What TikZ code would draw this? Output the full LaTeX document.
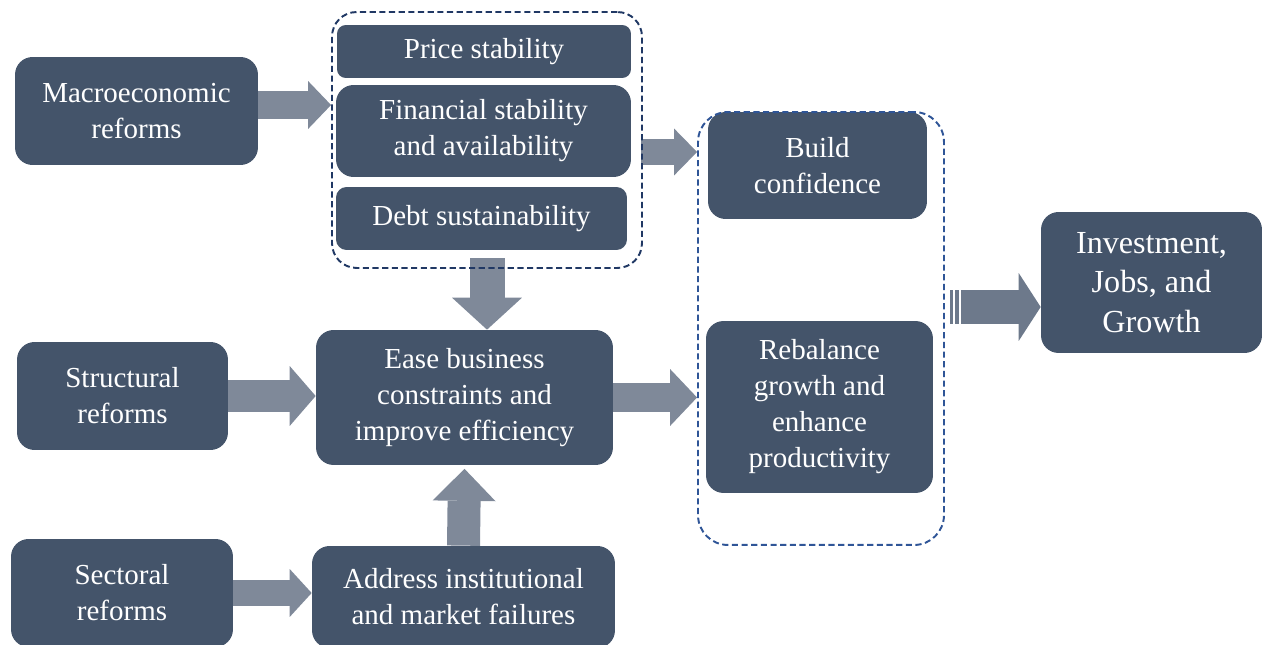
\documentclass[tikz,border=0pt]{standalone}
\usepackage{fontspec}
\setmainfont{Liberation Serif}
\usepackage{tikz}
\usetikzlibrary{arrows.meta,calc,backgrounds}

\definecolor{boxblue}{HTML}{44546A}
\definecolor{arrowgrey}{HTML}{7F8999}
\definecolor{darkgrey}{HTML}{6D798B}
\definecolor{navydash}{HTML}{203864}
\definecolor{bluedash}{HTML}{2F5597}

\begin{document}
\begin{tikzpicture}[
    x=0.02cm, y=-0.02cm,
    box/.style={rectangle, rounded corners=10pt, fill=boxblue, text=white, align=center,
        inner sep=0pt, font=\fontsize{16.5}{20.5}\selectfont},
    group/.style={rectangle, draw, dashed, dash pattern=on 3.5pt off 2pt, line width=1.1pt,
        rounded corners=14pt, inner sep=0pt},
    blockarrow/.style n args={4}{draw=#4, line width=#1,
        -{Triangle[width=#2, length=#3, line width=0pt, fill=#4]}}
]
\path[clip, use as bounding box] (0,0) rectangle (1262,645);

% Boxes
\node[box, minimum width=4.86cm, minimum height=2.16cm] (macro) at (136.5, 111) {Macroeconomic\\reforms};
\node[box, rounded corners=5pt, minimum width=5.88cm, minimum height=1.06cm] (price) at (484, 51.5) {Price stability};
\node[box, minimum width=5.9cm, minimum height=1.84cm] (fin) at (483.5, 131) {Financial stability\\and availability};
\node[box, rounded corners=6pt, minimum width=5.82cm, minimum height=1.26cm] (debt) at (481.5, 218.5) {Debt sustainability};
\node[box, minimum width=4.38cm, minimum height=2.14cm] (build) at (817.5, 165.5) {Build\\confidence};
\node[box, minimum width=4.54cm, minimum height=3.44cm] (rebal) at (819.5, 407) {Rebalance\\growth and\\enhance\\productivity};
\node[box, minimum width=4.42cm, minimum height=2.82cm, font=\fontsize{18.3}{22.5}\selectfont] (invest) at (1151.5, 282.5) {Investment,\\Jobs, and\\Growth};
\node[box, minimum width=4.22cm, minimum height=2.16cm] (struct) at (122.5, 396) {Structural\\reforms};
\node[box, minimum width=5.94cm, minimum height=2.7cm] (ease) at (464.5, 397.5) {Ease business\\constraints and\\improve efficiency};
\node[box, minimum width=4.44cm, minimum height=2.16cm] (sector) at (122, 593) {Sectoral\\reforms};
\node[box, minimum width=6.06cm, minimum height=2.04cm] (address) at (463.5, 597) {Address institutional\\and market failures};

% Dashed groups
\node[group, draw=navydash, minimum width=6.2cm, minimum height=5.12cm] (grp1) at (487, 140) {};
\node[group, draw=bluedash, rounded corners=17pt, minimum width=4.92cm, minimum height=8.66cm] (grp2) at (821, 328.5) {};

\coordinate (tail) at (961, 307);

% Block arrows
\begin{pgfonlayer}{background}
\draw[blockarrow={0.56cm}{0.96cm}{0.46cm}{arrowgrey}] (macro.east |- 0,105) -- (grp1.west |- 0,105);
\draw[blockarrow={0.54cm}{0.94cm}{0.46cm}{arrowgrey}] ($(grp1.east |- 0,152)+(-2,0)$) -- (grp2.west |- 0,152);
\draw[blockarrow={0.7cm}{1.4cm}{0.64cm}{arrowgrey}] ($(debt.south -| 487,0)+(0,8)$) -- (ease.north -| 487,0);
\draw[blockarrow={0.64cm}{1.2cm}{0.52cm}{arrowgrey}] (struct.east) -- (struct.east -| ease.west);
\draw[blockarrow={0.6cm}{1.14cm}{0.54cm}{arrowgrey}] (ease.east) -- (ease.east -| grp2.west);
\draw[blockarrow={0.66cm}{1.26cm}{0.64cm}{arrowgrey}] (address.north) -- ([yshift=-2pt]ease.south);
\draw[blockarrow={0.52cm}{0.96cm}{0.44cm}{arrowgrey}] (sector.east) -- (sector.east -| address.west);
\draw[blockarrow={0.68cm}{1.36cm}{0.44cm}{darkgrey}] (tail) -- (tail -| invest.west);
\fill[darkgrey] (950, 290) rectangle (953, 324);
\fill[darkgrey] (955, 290) rectangle (959, 324);
\end{pgfonlayer}

\end{tikzpicture}
\end{document}
